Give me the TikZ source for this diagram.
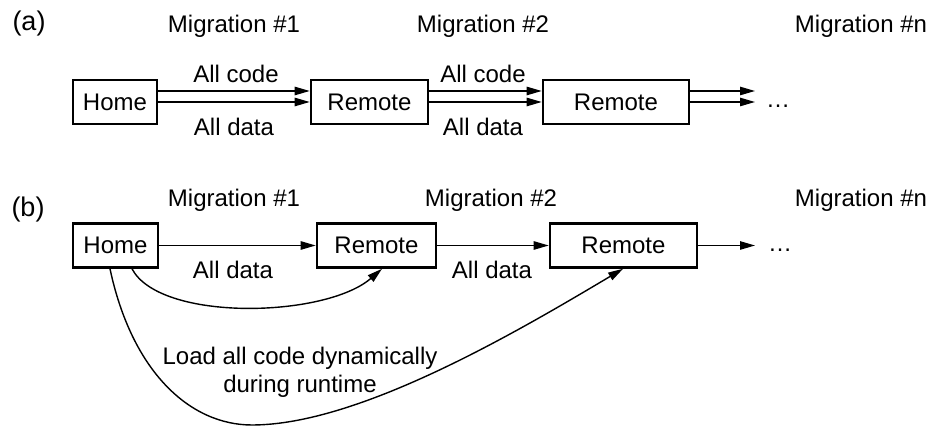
\documentclass[tikz,border=0pt]{standalone}
\usepackage{fontspec}
\setmainfont{Liberation Sans}
\usetikzlibrary{arrows.meta}

\begin{document}
\begin{tikzpicture}[x=0.5pt,y=-0.5pt,
  every node/.style={font=\fontsize{12}{14}\selectfont, inner sep=0pt},
  host/.style={draw, line width=1.3pt, minimum height=22pt},
  flow/.style={line width=0.7pt, -{Triangle[length=7.5pt,width=4.2pt]}},
  lbl/.style={anchor=center},
  tag/.style={anchor=center, font=\fontsize{13.5}{15}\selectfont}]
  \useasboundingbox (0,0) rectangle (933,426);

  % ---- (a) code and data migrate together ----
  \node[tag] (ta)  at (29,24)  {(a)};
  \node[lbl] (ma1) at (234,26) {Migration \#1};
  \node[lbl] (ma2) at (483,26) {Migration \#2};
  \node[lbl] (man) at (861,26) {Migration \#n};

  \node[host, minimum width=42pt]   (hA)  at (115,102)   {Home};
  \node[host, minimum width=58.5pt] (rA1) at (369.5,102) {Remote};
  \node[host, minimum width=73pt]   (rA2) at (616,102)   {Remote};
  \coordinate (endA) at (755,102);
  \node[lbl] (dotsA) at (778,106) {\dots};

  \draw[flow] ([yshift=5.5pt]hA.east) -- ([yshift=5.5pt]rA1.west);
  \draw[flow] (hA.east) -- (rA1.west);
  \draw[flow] ([yshift=5.5pt]rA1.east) -- ([yshift=5.5pt]rA2.west);
  \draw[flow] (rA1.east) -- (rA2.west);
  \draw[flow] ([yshift=5.5pt]rA2.east) -- ([yshift=5.5pt]endA);
  \draw[flow] (rA2.east) -- (endA);

  \node[lbl] (ca1) at (236,74)  {All code};
  \node[lbl] (da1) at (234,127) {All data};
  \node[lbl] (ca2) at (483,74)  {All code};
  \node[lbl] (da2) at (483,127) {All data};

  % ---- (b) data migrates, code is loaded on demand ----
  \node[tag] (tb)  at (28,210)  {(b)};
  \node[lbl] (mb1) at (234,200) {Migration \#1};
  \node[lbl] (mb2) at (491,200) {Migration \#2};
  \node[lbl] (mbn) at (861,200) {Migration \#n};

  \node[host, minimum width=42.5pt] (hB)  at (115.5,245.5) {Home};
  \node[host, minimum width=59.5pt] (rB1) at (376.5,245.5) {Remote};
  \node[host, minimum width=73.5pt] (rB2) at (623.5,245.5) {Remote};
  \coordinate (endB) at (755,245.5);
  \node[lbl] (dotsB) at (780,250) {\dots};

  \draw[flow] (hB.east) -- (rB1.west);
  \draw[flow] (rB1.east) -- (rB2.west);
  \draw[flow] (rB2.east) -- (endB);

  \node[lbl] (db1) at (233,270) {All data};
  \node[lbl] (db2) at (492,270) {All data};

  \coordinate (sSmall) at (hB.south -| 132,0);
  \coordinate (sLarge) at (hB.south -| 110,0);
  \coordinate (eSmall) at (rB1.south -| 382,0);
  \coordinate (eLarge) at (rB2.south -| 623,0);
  \coordinate (lowB) at (252,425);

  \draw[flow] (sSmall) .. controls (160,322) and (325,318) .. (eSmall);
  \draw[flow] (sLarge) .. controls (132,372) and (190,425) .. (lowB)
              .. controls (360,425) and (520,330) .. (eLarge);

  \node[lbl, align=center] (load) at (300,372)
    {Load all code dynamically\\during runtime};
\end{tikzpicture}
\end{document}
